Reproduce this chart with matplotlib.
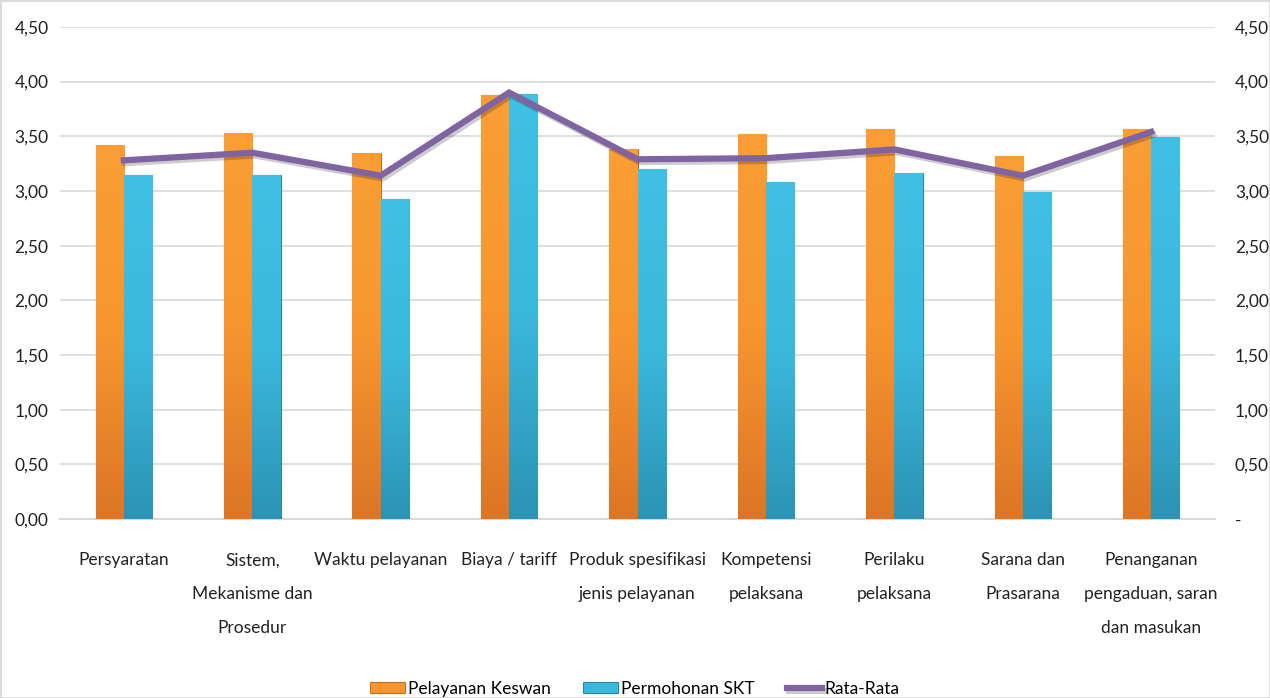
import matplotlib
matplotlib.use("Agg")
import matplotlib.pyplot as plt
import numpy as np
import matplotlib.patheffects as pe
from matplotlib.ticker import FuncFormatter, MultipleLocator
from matplotlib.colors import LinearSegmentedColormap

categories = ["Persyaratan", "Sistem,\nMekanisme dan\nProsedur", "Waktu pelayanan",
              "Biaya / tariff", "Produk spesifikasi\njenis pelayanan", "Kompetensi\npelaksana",
              "Perilaku\npelaksana", "Sarana dan\nPrasarana", "Penanganan\npengaduan, saran\ndan masukan"]
keswan = [3.42, 3.53, 3.35, 3.88, 3.38, 3.52, 3.57, 3.32, 3.57]
skt = [3.15, 3.15, 2.93, 3.89, 3.20, 3.08, 3.16, 2.99, 3.49]
rata = [3.28, 3.35, 3.14, 3.90, 3.29, 3.30, 3.38, 3.14, 3.54]

plt.rcParams['font.family'] = ['Lato', 'DejaVu Sans']

fig = plt.figure(figsize=(12.7, 6.98), dpi=100)
ax = fig.add_axes([0.047, 0.2564, 0.910, 0.705])
x = np.arange(len(categories))
w = 0.22
b1 = ax.bar(x - w/2, keswan, w, color="#F7962F", edgecolor="#C86E1E", linewidth=0.8,
            label="Pelayanan Keswan", zorder=3)
b2 = ax.bar(x + w/2, skt, w, color="#3BB9DD", edgecolor="#2787A8", linewidth=0.8,
            label="Permohonan SKT", zorder=3)

# vertical gradient fill on bars
cm_o = LinearSegmentedColormap.from_list("o", ["#DD7526", "#F7962F", "#FA9E35"])
cm_b = LinearSegmentedColormap.from_list("b", ["#2C93B4", "#3BB9DD", "#40C0E4"])
grad = np.linspace(0, 1, 256).reshape(-1, 1)
for bars, cm in ((b1, cm_o), (b2, cm_b)):
    for r in bars:
        x0, y0 = r.get_x(), r.get_y()
        im = ax.imshow(grad, cmap=cm, origin="lower", aspect="auto",
                       extent=[x0, x0 + r.get_width(), y0, y0 + r.get_height()], zorder=3.1)
        im.set_clip_path(r)
ax.set_xlim(-0.5, len(categories) - 0.5)
ax.set_ylim(0, 4.5)

ax.yaxis.set_major_locator(MultipleLocator(0.5))
ax.yaxis.set_major_formatter(FuncFormatter(lambda v, p: f"{v:.2f}".replace(".", ",")))
ax.grid(axis="y", color="#D9D9D9", linewidth=1.2, zorder=0)
for s in ["top", "right", "left"]:
    ax.spines[s].set_visible(False)
ax.spines["bottom"].set_color("#D9D9D9")
ax.spines["bottom"].set_linewidth(1.5)
ax.tick_params(axis="both", length=0, labelsize=12.5, colors="#222222")
ax.tick_params(axis="y", pad=8)
ax.tick_params(axis="x", pad=24)
ax.set_xticks(x)
ax.set_xticklabels(categories, linespacing=2.38)

ax2 = ax.twinx()
ax2.set_ylim(0, 4.5)
ax2.yaxis.set_major_locator(MultipleLocator(0.5))
ax2.yaxis.set_major_formatter(FuncFormatter(lambda v, p: "-" if abs(v) < 1e-9 else f"{v:.2f}".replace(".", ",")))
for s in ["top", "right", "left", "bottom"]:
    ax2.spines[s].set_visible(False)
ax2.tick_params(axis="y", length=0, labelsize=12.5, colors="#222222", pad=14)
ax2.plot(x, rata, color="#8064A2", linewidth=4.5, label="Rata-Rata", zorder=4,
         solid_joinstyle="miter",
         path_effects=[pe.SimpleLineShadow(offset=(1.5, -2), alpha=0.2), pe.Normal()])

h1, l1 = ax.get_legend_handles_labels()
h2, l2 = ax2.get_legend_handles_labels()
fig.legend(h1 + h2, l1 + l2, loc="center", bbox_to_anchor=(0.5, 0.013), ncol=3,
           frameon=False, fontsize=12.5, handlelength=2.0, handleheight=0.6,
           handletextpad=0.15, columnspacing=1.9)

fig.patches.append(plt.Rectangle((0, 0), 1, 1, transform=fig.transFigure, fill=False,
                                 edgecolor="#D9D9D9", linewidth=2))
fig.savefig("out.png", dpi=100)
